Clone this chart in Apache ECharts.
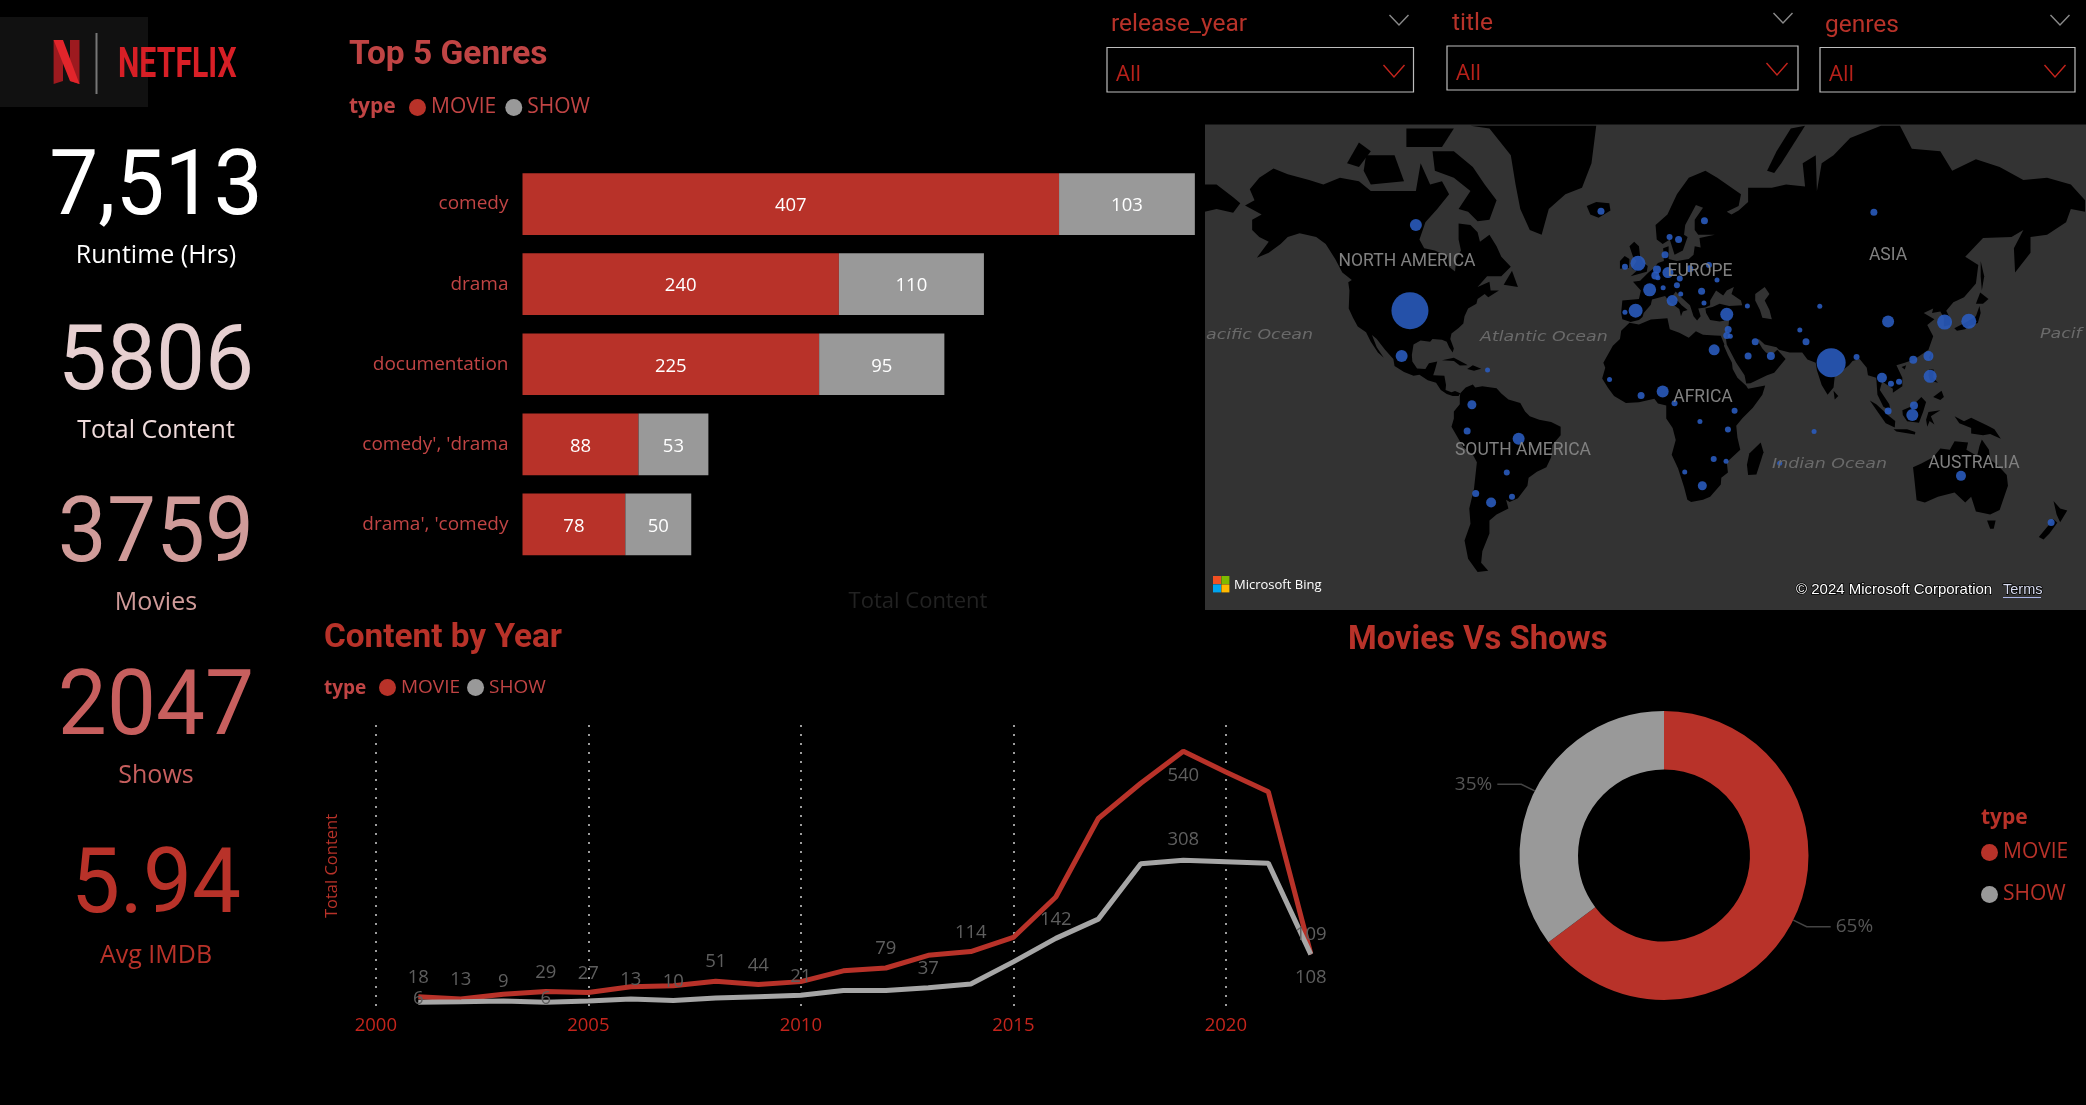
<!DOCTYPE html>
<html>
<head>
<meta charset="utf-8">
<title>Netflix dashboard</title>
<script src="https://cdn.jsdelivr.net/npm/echarts@6/dist/echarts.min.js"></script>
<style>html,body{margin:0;padding:0;background:#000;}#c{width:2086px;height:1105px;}</style>
</head>
<body>
<div id="c"></div>
<script>
// ---------- data ----------
const typeNames = ['MOVIE', 'SHOW'];
const genres = ['comedy', 'drama', 'documentation', "comedy', 'drama", "drama', 'comedy"];
const genreMovie = [407, 240, 225, 88, 78];
const genreShow = [103, 110, 95, 53, 50];

const years = [2001,2002,2003,2004,2005,2006,2007,2008,2009,2010,2011,2012,2013,2014,2015,2016,2017,2018,2019,2020,2021,2022];
const movieByYear = [18,13,23,29,27,39,41,51,44,50,73,79,106,114,144,230,397,472,540,496,454,109];
const showByYear = [6,7,9,6,9,13,10,15,18,21,31,31,37,45,92,142,183,301,308,305,302,108];
const movieLabelYears = [2001,2002,2004,2005,2008,2009,2012,2014,2019,2022];
const showLabelYears = [2001,2003,2004,2006,2007,2010,2013,2016,2019,2022];

const shareValues = [3759, 2047];

const kpiValues = ['7,513', '5806', '3759', '2047', '5.94'];
const kpiNames = ['Runtime (Hrs)', 'Total Content', 'Movies', 'Shows', 'Avg IMDB'];

const slicerNames = ['release_year', 'title', 'genres'];

// name, lon, lat, titles
const mapPlaces = [
  ['United States',-98.5,39.8,1369],['India',79,21,841],['Canada',-96,62,144],['Mexico',-102,23.6,144],
  ['Iceland',-18,64.6,49],['Finland',25.6,62.8,49],['Norway',10.9,59.5,36],['Sweden',14.7,59,49],
  ['Denmark',9,55.5,49],['Ireland',-7.9,52.5,36],['United Kingdom',-2.4,53.4,225],['Netherlands',5.6,51.8,64],
  ['Belgium',4.9,50.2,64],['Luxembourg',6,49.6,25],['Germany',10.2,51,121],['Poland',19.4,52,49],
  ['Belarus',27.5,53,36],['Czechia',15.2,49.4,36],['Ukraine',30.9,49,25],['France',2.5,46.2,169],
  ['Switzerland',8.2,46.8,25],['Austria',14,47.5,36],['Croatia',15.6,45,25],['Romania',24.4,45.8,49],
  ['Bulgaria',25.4,42.2,25],['Italy',12,43,121],['Spain',-3.4,39.8,196],['Portugal',-7.9,39.3,25],
  ['Turkey',35,38.6,169],['Georgia',43.7,41.3,25],['Lebanon',35.6,33.4,49],['Israel',35,31.3,49],
  ['Jordan',36.5,31,25],['Egypt',29.7,26,121],['Kuwait',47,29,49],['Saudi Arabia',44,23.6,49],
  ['UAE',53.6,23.6,64],['Afghanistan',65.8,33.3,25],['Pakistan',68.4,29,49],['Kyrgyzstan',74.2,41.2,25],
  ['Bangladesh',89.7,23.3,36],['China',103,36.2,144],['Russia',97,64.4,49],['South Korea',126.8,36,225],
  ['Japan',137,36.3,225],['Taiwan',120,23.6,100],['Hong Kong',113.6,22.2,64],['Philippines',120.7,15.6,169],
  ['Thailand',100.4,15,100],['Cambodia',104.2,12.6,36],['Vietnam',107.6,13.4,36],['Malaysia',113.9,3.5,64],
  ['Indonesia',113.2,-0.5,144],['Sumatra',103,1.2,49],['Chagos',71.8,-7.5,25],['Mauritius',57.3,-20.4,25],
  ['Australia',133.7,-25.3,100],['New Zealand',171.7,-41.6,49],['Puerto Rico',-65.8,18.1,25],['Senegal',-14.4,14.3,25],
  ['Ghana',-1.1,7.7,49],['Nigeria',8,9.3,144],['Cameroon',13,4.4,36],['Kenya',38.3,1.3,36],
  ['DR Congo',23.7,-3.3,25],['Tanzania',35.5,-6.6,36],['Zimbabwe',29.5,-18.7,36],['Mozambique',34.7,-19.6,25],
  ['Namibia',17.3,-23.8,25],['South Africa',24.7,-29,81],['Colombia',-72.4,3.8,81],['Peru',-74.4,-7.2,49],
  ['Brazil',-52.7,-10.5,144],['Paraguay',-57.7,-24,36],['Chile',-70.8,-31.8,49],['Argentina',-64.3,-35,100],
  ['Uruguay',-55.5,-33,36]
];

// coarse coastlines, lon/lat
const landNorthAmerica = [[-168,65.6],[-164,66.5],[-166,68.3],[-162,70],[-156,71.3],[-150,70.5],[-141,69.7],[-135,69],[-128,70],[-120,69.5],[-115,68],[-108,68],[-100,68],[-96,68],[-94,72],[-90,69],[-85,69.5],[-82,67.5],[-87,65],[-92,62.5],[-94.5,59],[-92.5,57],[-88,56.5],[-82.5,55],[-82,52.5],[-79.5,51.3],[-79,54.5],[-77,56.5],[-78,59],[-78,62.3],[-73,62],[-70,60.5],[-69,58.5],[-65,60],[-62,57.5],[-60,55],[-56,52.5],[-60,50],[-66,50],[-70,47],[-65,48.5],[-64.5,46],[-61,46],[-65.5,44],[-67,45],[-70,43.5],[-70.5,42],[-74,40.5],[-75.5,38],[-76,35.5],[-78,34],[-81,32],[-81.5,30],[-80,26.5],[-80.5,25],[-82,27],[-83,29],[-85,29.8],[-89,30],[-90,29],[-94,29.5],[-97,28],[-97.7,24],[-97.5,21.5],[-95.5,18.7],[-92,18.5],[-90.5,20.8],[-87,21.5],[-88,18],[-88.7,16],[-84,15.8],[-83.3,12],[-83.5,10],[-81,9],[-79.5,9.5],[-77.3,8.6],[-78,7.5],[-80.5,7.5],[-83,8.3],[-85.5,10],[-87.5,13],[-91,14],[-94.5,16.2],[-97,15.8],[-101,17.3],[-105,19.7],[-105.5,22.5],[-109,26],[-112.5,30],[-114.5,31.5],[-112.5,27],[-109.5,23],[-112,25],[-115,29],[-117,32.5],[-120.5,34.5],[-122.5,37.5],[-124.3,40.5],[-124,46],[-124.5,48.4],[-123,49],[-127,51],[-130,54.5],[-134,58],[-138,59.5],[-145,60.3],[-150,59.5],[-153,58],[-158,56],[-163,54.8],[-158,58.5],[-162,59.5],[-165,61],[-165,63],[-161,64],[-168,65.6]];
const landSouthAmerica = [[-77.3,8.6],[-75,11],[-72,12.2],[-71,11],[-68,11.5],[-62,10.7],[-60,8.5],[-57,6],[-52,4.5],[-50,1],[-48,-1],[-44,-2.5],[-39,-3.5],[-35,-5.5],[-35,-9],[-38.5,-13],[-39,-18],[-41,-22],[-45,-23.7],[-48.5,-26],[-49,-29],[-53,-33.5],[-56.5,-34.8],[-58,-34],[-57,-37],[-62,-39],[-65,-41],[-65,-45],[-68,-50],[-68.5,-53],[-65.5,-55],[-70,-55.3],[-74,-52],[-75.5,-47],[-73,-42],[-73.5,-37],[-71.5,-30],[-70.3,-20],[-72,-17],[-76,-14],[-81,-5.5],[-80,-2],[-80,1],[-77.5,4],[-77.5,7],[-77.3,8.6]];
const landAfrica = [[-6,35.8],[-2,35.2],[3,36.9],[10,37.3],[11,33.5],[15,32.3],[19,30.5],[22,32.8],[25,31.6],[30,31.3],[32.5,31.2],[34,28],[33.8,27.5],[35.5,24],[37.2,21],[37.5,18.5],[39.5,15],[43.2,11.7],[44,10.5],[51.2,11.8],[50,8],[46,2.5],[41.5,-2],[39,-5],[39.5,-10],[40.7,-15],[35,-20],[35.5,-24],[32.7,-26],[32.5,-28.5],[28,-33],[25,-34],[20,-34.8],[18.4,-34],[17,-29.5],[14.5,-22.5],[11.8,-17],[13.5,-11],[12.2,-6],[9.5,-2],[9.5,3.5],[6,4.3],[4.5,6.3],[-2,4.8],[-7.5,4.5],[-12.5,7.5],[-15,10.8],[-17.5,14.7],[-16.2,19],[-17,21],[-13,27.5],[-10,30],[-9.5,33],[-6,35.8]];
const landEurasia = [[-9,37],[-9.5,39],[-9,43],[-2,43.5],[-1.2,46],[-4.5,48.5],[-1.5,48.8],[2,51],[4,52],[6,53.5],[8.5,54],[8.2,57],[10.5,57.5],[10.5,54.5],[14,54],[19,54.5],[21,55.5],[21.5,57.5],[24,57.2],[23.5,59.3],[30,60],[23,60],[21.5,61],[21.5,63],[25,65.2],[22,65.7],[17.5,62],[17,60],[18.5,59.5],[16.5,56.5],[13,55.5],[11,59],[8,58],[5.5,59],[5,62],[10,64],[14,67.5],[19,70],[26,71],[31,70],[41,67.5],[40,65.5],[35,64.5],[37,64],[40,64.7],[44,66.2],[44,68.5],[54,68.5],[60,69],[68,68.7],[67,72],[72.5,73],[73,68],[75,72],[80,73],[87,75],[100,76.3],[108,76.3],[113,73.8],[125,73.5],[130,71],[140,72.5],[150,71.5],[160,69.7],[170,70],[180,69],[186,66.5],[186,64.5],[180,65],[178,62.5],[170,60],[163,59.5],[163,56],[156.5,51],[156,57],[160,61],[155,59.5],[143,59.3],[135.5,55],[141,53],[140,48],[135,44],[130.5,42.5],[127.5,39.8],[129.3,37],[129,35],[126.5,34.5],[126.5,37.5],[125,39.5],[121.5,39],[122,40.5],[118,39],[122.5,37],[119.5,35],[122,31],[120,26],[114,22.3],[110,21],[106.5,20],[109,15],[109,11.5],[105,8.8],[105,10.5],[100.5,13.5],[99.5,10],[103.5,4],[104,1.4],[101,3],[98.5,8],[98,15],[94.5,16],[94,19],[91,22.5],[88,21.7],[86.5,20],[80.5,15.5],[80,11],[77.5,8],[75,12],[73,18],[72.5,21],[69,22.3],[66.8,25],[61.5,25],[57,26],[56,27],[51,28],[48.5,30],[48,29.5],[50,26.5],[51.5,25],[54,24],[56.3,26],[59.8,22.5],[55,17],[52,16],[45,12.8],[43.2,12.7],[42.5,16],[39,21],[35,28],[34.5,31.2],[35.8,35],[36,36.8],[32,36.2],[28,36.7],[26.3,39],[26,40.5],[29,41],[32,42],[36,41.3],[41.5,41.5],[41,43],[37,45],[38,47],[35,46],[33.5,44.5],[30.5,46],[28,43],[28,41.5],[26,40.8],[23,40.5],[24,38],[22.5,36.5],[21,38],[19.5,41.5],[15,44.5],[13.5,45.7],[12.3,44.5],[16,41.5],[18.5,40],[16.5,39.5],[15.7,38],[15,40.3],[11,42.5],[9,44.4],[3.5,43.3],[3,41.7],[0,39],[-0.5,37.7],[-2,36.7],[-5.5,36],[-9,37]];
const landAustralia = [[113.5,-22],[114,-26],[115,-34.2],[118.5,-35],[124,-33],[131,-31.5],[135.5,-35],[138,-33],[140,-38],[146,-39],[150,-37.5],[153.5,-29],[153,-25],[149,-21],[146,-19],[145.5,-15],[142.5,-10.8],[141.5,-13.5],[140.5,-17.5],[136,-15],[136.7,-12],[131,-11.5],[129,-15],[125,-14.5],[122,-18],[117,-20.5],[113.5,-22]];
const landGreenland = [[-73,76.3],[-60,76.3],[-20,76.3],[-22,72],[-26,68.5],[-33,67.5],[-40,65],[-43,60],[-48,61],[-52,65],[-54,69],[-56,73],[-65,76],[-73,76.3]];
const landIslands = [
  [[-80,73.5],[-72,71.5],[-67,69],[-62,66.5],[-65,63],[-70,62.7],[-74,64.5],[-78,65],[-73,68],[-80,70],[-88,71],[-89,73.5],[-80,73.5]],
  [[-117,73],[-105,73],[-101,69.5],[-115,69],[-118,71],[-117,73]],
  [[-125,72],[-120,74.5],[-115,73.5],[-120,71.5],[-125,72]],
  [[-100,76],[-90,76],[-80,76],[-85,74],[-100,74],[-100,76]],
  [[-85,22],[-80,23],[-75,20.5],[-74.2,20],[-77.5,19.9],[-80,21.7],[-85,22]],
  [[-74.4,18.5],[-72,20],[-68.5,18.6],[-71.5,17.8],[-74.4,18.5]],
  [[-59,47.7],[-55.5,51.5],[-53,47],[-59,47.7]],
  [[49.3,-12],[50.5,-16],[47.5,-24.8],[44,-25],[43.5,-21],[44.5,-16.5],[49.3,-12]],
  [[-5.5,50],[1.3,51.2],[1.7,52.7],[0,53.5],[-1.5,55],[-2,57.5],[-4,58.5],[-6,57.5],[-4.5,55],[-3,54],[-5,52],[-3,51.4],[-5.5,50]],
  [[-10,52],[-6.2,52.2],[-6,54.5],[-8,55.2],[-10,54],[-10,52]],
  [[-24,65.5],[-20,66.2],[-14.5,66],[-14,64.7],[-19,63.4],[-22.5,64],[-24,65.5]],
  [[52,71],[56,73.5],[62,76],[68,76.3],[58,72],[55,70.7],[52,71]],
  [[80,9.7],[82,7.5],[80.5,6],[80,9.7]],
  [[130.9,33.9],[136,36],[140,38],[141.5,41.3],[142,39],[140.8,35.7],[137,34.6],[135.5,33.5],[132,33],[130.9,33.9]],
  [[140,42],[141.8,45.4],[145.3,43.5],[143,42],[140,42]],
  [[142,54],[143.5,50],[142.5,46],[142,50],[142,54]],
  [[120.2,23],[121.5,25.2],[121,22],[120.2,23]],
  [[108.7,19.3],[110.6,20],[110,18.3],[108.7,19.3]],
  [[120.3,18.3],[122.2,18.3],[122,15],[124,13],[120.7,13.8],[120,16],[120.3,18.3]],
  [[122,7],[125.5,9.7],[126.5,7],[125,5.8],[122,7]],
  [[109,1.5],[113,3.2],[117,7],[119,5],[117.8,1],[116,-3.8],[111,-3.2],[109.2,-0.5],[109,1.5]],
  [[95.3,5.6],[98,4],[103.5,-1],[106,-3],[105.8,-5.8],[102,-4],[98.5,1],[95.3,5.6]],
  [[105.3,-6.5],[111,-6.5],[114.5,-7.7],[114.3,-8.7],[106.5,-7.5],[105.3,-6.5]],
  [[119.5,-5.5],[119,-2.5],[120,0.7],[125,1.5],[121,-1],[122.5,-4.5],[120.5,-3],[119.5,-5.5]],
  [[131,-1],[135,-3.2],[138,-1.7],[145,-5],[147.8,-6.5],[150.5,-10.5],[146,-8.5],[143,-9],[138,-8.3],[138,-6],[133,-4],[131,-1]],
  [[144.7,-41],[148.3,-41],[147.5,-43.5],[146,-43.5],[144.7,-41]],
  [[172.7,-34.5],[175.5,-37],[178.5,-37.7],[175.5,-41.5],[174,-39],[172.7,-34.5]],
  [[172.7,-40.6],[174.3,-41.7],[171,-45],[168.5,-46.7],[166.5,-46],[170,-43],[172.7,-40.6]],
  [[-185,69],[-180,69],[-173,67],[-170,66],[-173,64.3],[-180,65],[-185,64.5],[-185,69]]
];
const seaCaspian = [[47,45],[51,47],[53,45],[51,43],[53,40],[54,37],[50,37.5],[49,40],[47,43],[47,45]];

// ---------- styles ----------
const RED = '#b83229';
const GREY = '#999999';
const OCEAN = '#333333';

const landRings = [landNorthAmerica, landSouthAmerica, landAfrica, landEurasia, landAustralia, landGreenland].concat(landIslands);
const worldGeo = {
  type: 'FeatureCollection',
  features: landRings.map((ring, i) => ({
    type: 'Feature', properties: { name: 'land' + i },
    geometry: { type: 'Polygon', coordinates: [ring] }
  })).concat([{
    type: 'Feature', properties: { name: 'Caspian' },
    geometry: { type: 'Polygon', coordinates: [seaCaspian] }
  }])
};
echarts.registerMap('bingWorld', worldGeo);

const mercator = {
  project: p => [p[0] * Math.PI / 180, -Math.log(Math.tan(Math.PI / 4 + p[1] * Math.PI / 360))],
  unproject: p => [p[0] * 180 / Math.PI, (2 * Math.atan(Math.exp(-p[1])) - Math.PI / 2) * 180 / Math.PI]
};

function text(str, x, y, fill, size, opts) {
  opts = opts || {};
  return {
    type: 'text', z: opts.z || 20, silent: true, x: x, y: y, scaleX: opts.sx || 1, scaleY: 1,
    style: {
      text: str, x: 0, y: 0, fill: fill,
      fontSize: size, fontFamily: opts.family || 'Open Sans', fontWeight: opts.weight || 'normal',
      fontStyle: opts.style || 'normal', align: opts.align || 'left', verticalAlign: 'middle',
      stroke: opts.stroke, lineWidth: opts.strokeWidth || 0
    }
  };
}
function rect(x, y, w, h, fill, stroke, z) {
  return { type: 'rect', z: z === undefined ? 0 : z, silent: true, shape: { x, y, width: w, height: h },
    style: { fill: fill, stroke: stroke || null, lineWidth: stroke ? 1.2 : 0 } };
}
function chevron(cx, cy, w, h, color) {
  return { type: 'polyline', z: 20, silent: true,
    shape: { points: [[cx - w / 2, cy - h / 2], [cx, cy + h / 2], [cx + w / 2, cy - h / 2]] },
    style: { stroke: color, lineWidth: 1.4, fill: null } };
}

const kpiColors = ['#ffffff', '#e6cfd0', '#d09b99', '#c75f5e', '#b83229'];
const kpiNameColors = ['#ffffff', '#f0dcdc', '#d09b99', '#c75f5e', '#b83229'];
const kpiValueY = [191, 366, 538, 711, 889];
const kpiNameY = [255.5, 430.5, 602.5, 775.5, 955.5];

const graphics = [];
// map backdrop
graphics.push(rect(1205, 124.5, 881, 485.5, OCEAN, null, -1));
// logo
graphics.push(rect(0, 17, 148, 90, '#111111'));
graphics.push({ type: 'polygon', z: 2, silent: true, shape: { points: [[53.6, 40], [63, 40], [63, 81], [53.6, 84]] }, style: { fill: '#9d1a1f' } });
graphics.push({ type: 'polygon', z: 2, silent: true, shape: { points: [[70, 40], [79.5, 40], [79.5, 84], [70, 81]] }, style: { fill: '#9d1a1f' } });
graphics.push({ type: 'polygon', z: 3, silent: true, shape: { points: [[53.6, 40], [63, 40], [79.5, 84], [70, 81]] }, style: { fill: '#e2252b' } });
graphics.push(rect(95.5, 33, 2, 61, '#777777', null, 2));
graphics.push(text('NETFLIX', 118, 66, '#d81f26', 42, { family: 'Roboto', weight: 'bold', sx: 0.72 }));
// KPI column
kpiValues.forEach((v, i) => {
  graphics.push(text(v, 156, kpiValueY[i], kpiColors[i], 90, { align: 'center', family: 'Roboto', sx: 0.97 }));
  graphics.push(text(kpiNames[i], 156, kpiNameY[i], kpiNameColors[i], 25, { align: 'center' }));
});
// titles
graphics.push(text('Top 5 Genres', 349, 55, '#c04444', 34, { family: 'Roboto', weight: 'bold', sx: 0.985 }));
graphics.push(text('Content by Year', 324, 638, RED, 34, { family: 'Roboto', weight: 'bold', sx: 0.98 }));
graphics.push(text('Movies Vs Shows', 1348, 640, RED, 34, { family: 'Roboto', weight: 'bold', sx: 0.965 }));
// legend captions
graphics.push(text('type', 349, 107, '#c04444', 21, { weight: 'bold' }));
graphics.push(text('type', 324, 689, '#c04444', 19, { weight: 'bold' }));
graphics.push(text('type', 1981, 818, RED, 21, { weight: 'bold' }));
// slicers
const slicerX = [1111, 1452, 1825];
const slicerY = [24.5, 23.5, 25.5];
const slicerBox = [[1107, 47.5, 306.5, 44.5], [1447, 46, 351, 44], [1820, 47.5, 255, 44.5]];
const slicerTop = [[1399, 20], [1783, 18], [2060, 20]];
const slicerDrop = [[1394, 71], [1777, 69], [2055, 71]];
slicerNames.forEach((n, i) => {
  graphics.push(text(n, slicerX[i], slicerY[i], RED, 24.5, { family: 'Roboto' }));
  const b = slicerBox[i];
  graphics.push(rect(b[0], b[1], b[2], b[3], null, '#bdbdbd', 5));
  graphics.push(text('All', b[0] + 9, b[1] + 27.5, '#b8211a', 22));
  graphics.push(chevron(slicerTop[i][0], slicerTop[i][1], 19, 10, '#8a8a8a'));
  graphics.push(chevron(slicerDrop[i][0], slicerDrop[i][1], 21, 12, '#c4241c'));
});
// map captions
const bigLabel = { align: 'center', family: 'Roboto' };
graphics.push(text('NORTH AMERICA', 1407, 262, '#808080', 17.5, bigLabel));
graphics.push(text('EUROPE', 1700, 272, '#808080', 17.5, bigLabel));
graphics.push(text('ASIA', 1888, 256, '#808080', 17.5, bigLabel));
graphics.push(text('AFRICA', 1703, 398, '#808080', 17.5, bigLabel));
graphics.push(text('SOUTH AMERICA', 1523, 451, '#808080', 17.5, bigLabel));
graphics.push(text('AUSTRALIA', 1974, 464, '#808080', 17.5, bigLabel));
const seaLabel = { family: 'DejaVu Sans', style: 'italic', sx: 1.2 };
graphics.push(text('acific Ocean', 1206, 335, '#6a6a6a', 14.5, seaLabel));
graphics.push(text('Atlantic Ocean', 1480, 337, '#6a6a6a', 14.5, seaLabel));
graphics.push(text('Indian Ocean', 1772, 464, '#6a6a6a', 14.5, seaLabel));
graphics.push(text('Pacif', 2040, 334, '#6a6a6a', 14.5, seaLabel));
// attribution
graphics.push(rect(1213, 576, 8, 8, '#f25022', null, 20));
graphics.push(rect(1221.4, 576, 8, 8, '#7fba00', null, 20));
graphics.push(rect(1213, 584.4, 8, 8, '#00a4ef', null, 20));
graphics.push(rect(1221.4, 584.4, 8, 8, '#ffb900', null, 20));
graphics.push(text('Microsoft Bing', 1234, 585, '#ffffff', 13, { family: 'Open Sans' }));
graphics.push(text('© 2024 Microsoft Corporation', 1796, 590, '#ffffff', 15, { family: 'Liberation Sans', stroke: '#000', strokeWidth: 1.5 }));
graphics.push(text('Terms', 2003, 590, '#d8dcf0', 14.5, { family: 'Liberation Sans', stroke: '#000', strokeWidth: 1.5 }));
graphics.push(rect(2003, 597, 38, 1, '#aab4e8', null, 20));

// ---------- chart ----------
const labelGrey = '#5e5e5e';
function yearPoints(values, labelYears, tweaks) {
  return years.map((y, i) => {
    const p = { value: [y, values[i]] };
    if (labelYears.indexOf(y) >= 0) {
      p.label = Object.assign({ show: true, position: 'top', distance: 9, color: labelGrey, fontSize: 18.5, fontFamily: 'Open Sans' }, tweaks[y] || {});
    }
    return p;
  });
}
const legendText = (size, color) => ({ color: color, fontSize: size, fontFamily: 'Open Sans' });
const barLabel = { show: true, position: 'inside', color: '#ffffff', fontSize: 18.5, fontFamily: 'Open Sans', offset: [0, 2] };

const chart = echarts.init(document.getElementById('c'), null, { renderer: 'canvas' });
chart.setOption({
  animation: false,
  backgroundColor: '#000000',
  color: [RED, GREY],
  graphic: { elements: graphics },
  legend: [
    { data: typeNames, left: 409, top: 97, icon: 'circle', itemWidth: 17, itemHeight: 17, itemGap: 9, padding: 0, textStyle: legendText(21, '#c04444'), selectedMode: false },
    { data: typeNames, left: 379, top: 678, icon: 'circle', itemWidth: 17, itemHeight: 17, itemGap: 7, padding: 0, textStyle: legendText(19, '#c04444'), selectedMode: false },
    { data: typeNames, left: 1981, top: 842, orient: 'vertical', icon: 'circle', itemWidth: 17, itemHeight: 17, itemGap: 21, padding: 0, textStyle: legendText(21, RED), selectedMode: false }
  ],
  grid: [
    { left: 522.5, top: 164, width: 791, height: 400.5 },
    { left: 375.8, top: 725, width: 935, height: 282 }
  ],
  xAxis: [
    { gridIndex: 0, type: 'value', min: 0, max: 600, name: 'Total Content', nameLocation: 'middle', nameGap: 26,
      nameTextStyle: { color: '#222222', fontSize: 22, fontFamily: 'Open Sans' },
      axisLine: { show: false }, axisTick: { show: false }, axisLabel: { show: false }, splitLine: { show: false } },
    { gridIndex: 1, type: 'value', min: 2000, max: 2022, interval: 5,
      axisLine: { show: false }, axisTick: { show: false },
      axisLabel: { color: '#c4241c', fontSize: 18.5, fontFamily: 'Open Sans', margin: 9, showMaxLabel: false, formatter: v => String(v) },
      splitLine: { show: true, showMaxLine: false, lineStyle: { color: '#cfcfcf', width: 1.5, type: [2, 7] } } }
  ],
  yAxis: [
    { gridIndex: 0, type: 'category', inverse: true, data: genres,
      axisLine: { show: false }, axisTick: { show: false },
      axisLabel: { color: '#c04444', fontSize: 19, fontFamily: 'Open Sans', margin: 14, padding: [9, 0, 0, 0] } },
    { gridIndex: 1, type: 'value', min: -4, max: 596, name: 'Total Content', nameLocation: 'middle', nameGap: 35, nameRotate: 90,
      nameTextStyle: { color: RED, fontSize: 16.5, fontFamily: 'Open Sans' },
      axisLine: { show: false }, axisTick: { show: false }, axisLabel: { show: false }, splitLine: { show: false } }
  ],
  geo: {
    map: 'bingWorld', projection: mercator, roam: false, silent: true, z: 1,
    boundingCoords: [[-184.87, 76.4], [186.39, -63.4]],
    layoutCenter: [1645.5, 367.25], layoutSize: 881,
    label: { show: false },
    itemStyle: { areaColor: '#000000', borderWidth: 0, borderColor: 'transparent' },
    regions: [{ name: 'Caspian', itemStyle: { areaColor: OCEAN } }]
  },
  series: [
    { name: 'MOVIE', type: 'bar', xAxisIndex: 0, yAxisIndex: 0, stack: 'g', barCategoryGap: '23%', data: genreMovie,
      itemStyle: { color: RED }, label: barLabel },
    { name: 'SHOW', type: 'bar', xAxisIndex: 0, yAxisIndex: 0, stack: 'g', barCategoryGap: '23%', data: genreShow,
      itemStyle: { color: GREY }, label: barLabel },
    { name: 'MOVIE', type: 'line', xAxisIndex: 1, yAxisIndex: 1, symbol: 'circle', symbolSize: 1, showSymbol: true, showAllSymbol: true, clip: false,
      lineStyle: { color: RED, width: 5 }, itemStyle: { color: RED },
      data: yearPoints(movieByYear, movieLabelYears, { 2019: { position: 'bottom', distance: 14 } }) },
    { name: 'SHOW', type: 'line', xAxisIndex: 1, yAxisIndex: 1, symbol: 'circle', symbolSize: 1, showSymbol: true, showAllSymbol: true, clip: false,
      lineStyle: { color: '#a6a6a6', width: 5 }, itemStyle: { color: '#a6a6a6' },
      data: yearPoints(showByYear, showLabelYears, {
        2001: { position: 'inside', offset: [0, -4] }, 2004: { position: 'inside', offset: [0, -4] },
        2019: { distance: 11 }, 2022: { position: 'bottom', distance: 13 } }) },
    { type: 'pie', center: [1664, 855.5], radius: [86, 144.5], startAngle: 90, clockwise: true,
      data: typeNames.map((n, i) => ({ name: n, value: shareValues[i], itemStyle: { color: i ? GREY : RED } })),
      label: { color: '#555555', fontSize: 19, fontFamily: 'Open Sans', formatter: p => Math.round(p.percent) + '%' },
      labelLine: { length: 15, length2: 24, lineStyle: { color: '#444444', width: 1.5 } } },
    { type: 'scatter', coordinateSystem: 'geo', geoIndex: 0, z: 5, silent: true,
      data: mapPlaces.map(p => ({ name: p[0], value: [p[1], p[2], p[3]] })),
      symbolSize: v => Math.sqrt(v[2]),
      itemStyle: { color: '#2a5cc0', opacity: 0.88 } }
  ]
});
</script>
</body>
</html>
